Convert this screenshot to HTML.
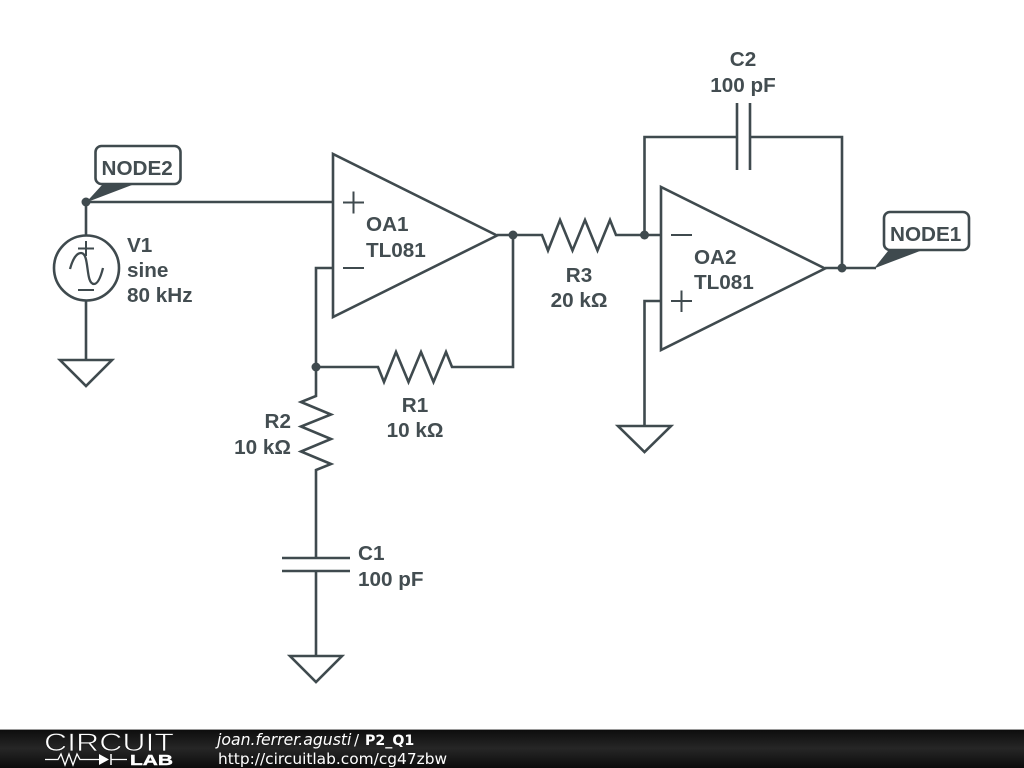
<!DOCTYPE html>
<html>
<head>
<meta charset="utf-8">
<style>
html,body{margin:0;padding:0;background:#fff;}
svg{display:block;}
.w{fill:none;stroke:#3f4a4e;stroke-width:2.6;stroke-linejoin:miter;}
.n{fill:none;stroke:#3f4a4e;stroke-width:2;}
.t{font-family:"Liberation Sans",sans-serif;font-weight:bold;font-size:20.7px;fill:#434d51;}
.f{font-family:"DejaVu Sans",sans-serif;fill:#fff;}
</style>
</head>
<body>
<svg width="1024" height="768" viewBox="0 0 1024 768" xmlns="http://www.w3.org/2000/svg">
<defs>
<linearGradient id="g" x1="0" y1="0" x2="0" y2="1">
<stop offset="0" stop-color="#0c0c0c"/>
<stop offset="0.5" stop-color="#262626"/>
<stop offset="1" stop-color="#0c0c0c"/>
</linearGradient>
</defs>
<rect width="1024" height="768" fill="#fff"/>

<!-- wires -->
<path class="w" d="M86 202H333"/>
<path class="w" d="M86 202V236M86 301V360"/>
<path class="w" d="M60 360H112L86 386Z"/>
<circle class="w" cx="86.500" cy="268" r="32.500"/>
<path class="n" d="M78 248.500H94M86 241V256M78 290H94"/>
<path class="w" style="stroke-width:2.300" d="M70 269C73 258 77 253 81 253C90 253 85 284 94 284C98 284 101 276 103 268"/>

<!-- OA1 -->
<path class="w" d="M333 154V317L497 235.500Z"/>
<path class="n" d="M343 202.500H364M353.500 191.500V213.500M343 268H364"/>
<path class="w" d="M333 268H316V367"/>
<path class="w" d="M497 235H542L548 250.500L560 220L572.500 250.500L585 220L597.500 250.500L610 220L616 235H661"/>
<path class="w" d="M513 235V367H452L446 352L433.500 382L421 352L408.500 382L396 352L384 382L378 367H316"/>
<path class="w" d="M316 367V396L301 402L331 414.500L301 426.500L331 439L301 451.500L331 464L316 470V558M316 571V656"/>
<path class="w" d="M282 558H350M282 571H350"/>
<path class="w" d="M290 656H342L316 682Z"/>

<!-- OA2 -->
<path class="w" d="M661 187V350L825 268.500Z"/>
<path class="n" d="M671 235H692M671 301H692M681.500 290.500V312"/>
<path class="w" d="M661 301H644.500V426"/>
<path class="w" d="M618 426H671L644.500 452Z"/>
<path class="w" d="M644.500 235V137H737M750 137H842V268"/>
<path class="w" d="M737 103V170M750 103V170"/>
<path class="w" d="M825 268H876"/>

<!-- node labels -->
<rect x="95.500" y="146" width="85" height="38" rx="6" fill="#fff" stroke="#3f4a4e" stroke-width="2.600"/>
<text class="t" x="101.500" y="175">NODE2</text>
<rect x="884" y="212" width="85" height="38" rx="6" fill="#fff" stroke="#3f4a4e" stroke-width="2.600"/>
<text class="t" x="890" y="241">NODE1</text>

<!-- junctions and label pointers -->
<g fill="#3f4a4e">
<circle cx="86" cy="202" r="4.500"/>
<circle cx="513" cy="235" r="4.500"/>
<circle cx="316" cy="367" r="4.500"/>
<circle cx="644.500" cy="235" r="4.500"/>
<circle cx="842" cy="268" r="4.500"/>
<path d="M86 202.500L102 185H132Z"/>
<path d="M874 268.500L888 251H920Z"/>
</g>

<!-- text -->
<text class="t" x="127" y="252">V1</text>
<text class="t" x="127" y="277">sine</text>
<text class="t" x="127" y="302">80 kHz</text>
<text class="t" x="366" y="231">OA1</text>
<text class="t" x="366" y="257">TL081</text>
<text class="t" x="694" y="264">OA2</text>
<text class="t" x="694" y="289">TL081</text>
<text class="t" x="579" y="282" text-anchor="middle">R3</text>
<text class="t" x="579" y="307" text-anchor="middle">20 kΩ</text>
<text class="t" x="415" y="412" text-anchor="middle">R1</text>
<text class="t" x="415" y="437" text-anchor="middle">10 kΩ</text>
<text class="t" x="291" y="428" text-anchor="end">R2</text>
<text class="t" x="291" y="454" text-anchor="end">10 kΩ</text>
<text class="t" x="358" y="560">C1</text>
<text class="t" x="358" y="586">100 pF</text>
<text class="t" x="743" y="66" text-anchor="middle">C2</text>
<text class="t" x="743" y="92" text-anchor="middle">100 pF</text>

<!-- footer -->
<rect x="0" y="729" width="1024" height="39" fill="url(#g)"/>
<rect x="0" y="729" width="1024" height="1" fill="#9a9a9a"/>
<text x="44" y="751" font-family="'Liberation Sans',sans-serif" font-size="25" fill="#fff" stroke="#1c1c1c" stroke-width="0.700" textLength="130" lengthAdjust="spacingAndGlyphs">CIRCUIT</text>
<path d="M45 759.500H58L61 754L65 765L69 754L73 765L77 754L80 759.500H99M111 759.500H127" fill="none" stroke="#fff" stroke-width="1.300"/>
<path d="M99 754L109 759.500L99 765Z" fill="#fff"/>
<path d="M111 754V765" stroke="#fff" stroke-width="1.500"/>
<text x="130" y="765" font-family="'Liberation Sans',sans-serif" font-weight="bold" font-size="14.500" fill="#fff" stroke="#fff" stroke-width="0.400" textLength="43" lengthAdjust="spacingAndGlyphs">LAB</text>
<text class="f" x="217" y="745" style="font-size:15.700px;font-style:italic">joan.ferrer.agusti</text>
<text class="f" x="354" y="745" style="font-size:15px">/</text>
<text class="f" x="365" y="745" style="font-size:14.200px;font-weight:bold">P2_Q1</text>
<text class="f" x="218" y="764" style="font-size:15.400px">http://circuitlab.com/cg47zbw</text>
</svg>
</body>
</html>
